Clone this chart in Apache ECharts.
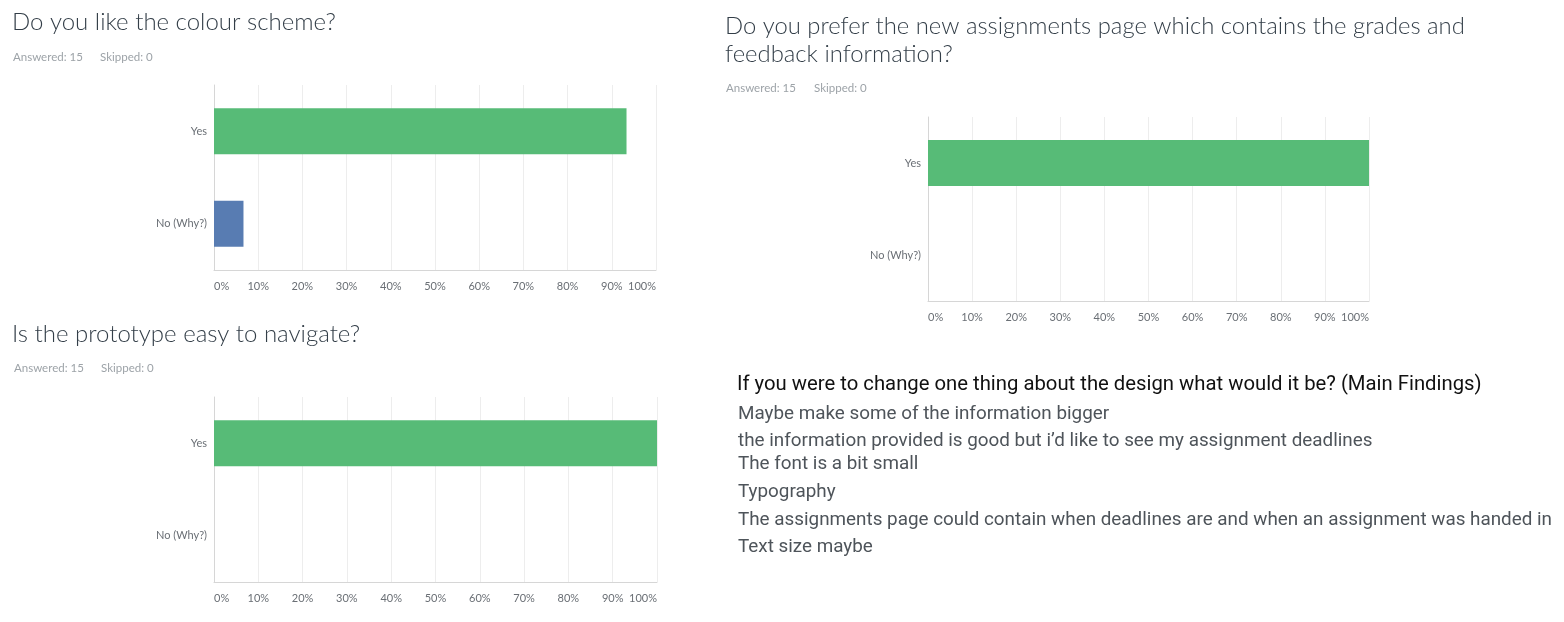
<!DOCTYPE html>
<html>
<head>
<meta charset="utf-8">
<script src="https://cdn.jsdelivr.net/npm/echarts@6/dist/echarts.min.js"></script>
<style>
html,body{margin:0;padding:0;background:#fff;}
#chart{width:1564px;height:622px;}
</style>
</head>
<body>
<div id="chart"></div>
<script>
// ---- data ----
const categories = ['Yes', 'No (Why?)'];
const colourSchemeValues = [93.33, 6.67];
const navigateValues = [100, 0];
const assignmentsValues = [100, 0];
const barColors = ['#57BB77', '#587CB2'];
const question1 = 'Do you like the colour scheme?';
const question2 = 'Is the prototype easy to navigate?';
const question3 = 'Do you prefer the new assignments page which contains the grades and\nfeedback information?';
const answeredText = 'Answered: 15';
const skippedText = 'Skipped: 0';
const findingsTitle = 'If you were to change one thing about the design what would it be? (Main Findings)';
const findings = [
  'Maybe make some of the information bigger',
  'the information provided is good but i\u2019d like to see my assignment deadlines',
  'The font is a bit small',
  'Typography',
  'The assignments page could contain when deadlines are and when an assignment was handed in',
  'Text size maybe'
];

// ---- layout ----
const grids = [
  {left: 214, top: 85, width: 442, height: 185},
  {left: 214, top: 397, width: 443, height: 185},
  {left: 928, top: 117, width: 441, height: 184}
];
const valueSets = [colourSchemeValues, navigateValues, assignmentsValues];

const titleFont = 'Lato, "Open Sans", sans-serif';
const titleStyle = {fontFamily: titleFont, fontSize: 24, fontWeight: 300, color: '#333E48', lineHeight: 28};
const titleStyle3 = Object.assign({}, titleStyle, {fontSize: 23.85});
const subStyle = {fontFamily: titleFont, fontSize: 11.5, fontWeight: 400, color: '#9DA3A8'};

function t(text, left, top, style) {
  return {text: text, left: left, top: top, padding: 0, textStyle: style};
}

const titles = [
  t(question1, 12, 8, titleStyle),
  t(answeredText, 13, 51, subStyle),
  t(skippedText, 100, 51, subStyle),
  t(question2, 12, 320, titleStyle),
  t(answeredText, 14, 362, subStyle),
  t(skippedText, 101, 362, subStyle),
  t(question3, 725, 12, titleStyle3),
  t(answeredText, 726, 82, subStyle),
  t(skippedText, 814, 82, subStyle),
  t(findingsTitle, 737, 375, {fontFamily: 'Roboto', fontSize: 20.3, fontWeight: 400, color: '#111'})
];
const findingsTops = [405, 432, 455, 483, 511, 538];
findings.forEach((s, i) => {
  titles.push(t(s, 738, findingsTops[i], {fontFamily: 'Roboto', fontSize: 18.85, fontWeight: 400, color: '#4E545A'}));
});

const xAxes = grids.map((g, i) => ({
  type: 'value', gridIndex: i, min: 0, max: 100, interval: 10,
  axisLine: {show: true, lineStyle: {color: '#D6D6D6', width: 1}},
  axisTick: {show: false},
  splitLine: {show: true, lineStyle: {color: '#EDEDED', width: 1}},
  axisLabel: {formatter: '{value}%', color: '#6A6F75', fontSize: 11, fontFamily: 'Lato, sans-serif', margin: 11,
    alignMinLabel: 'left', alignMaxLabel: 'right'}
}));
const yAxes = grids.map((g, i) => ({
  type: 'category', gridIndex: i, data: categories, inverse: true,
  axisLine: {show: true, lineStyle: {color: '#D6D6D6', width: 1}},
  axisTick: {show: false},
  axisLabel: {color: '#6A6F75', fontSize: 11, fontFamily: 'Lato, sans-serif', margin: 7}
}));
const series = valueSets.map((vals, i) => ({
  type: 'bar', xAxisIndex: i, yAxisIndex: i, barWidth: 46,
  data: vals.map((v, j) => ({value: v, itemStyle: {color: barColors[j]}})),
  silent: true
}));

const chart = echarts.init(document.getElementById('chart'));
chart.setOption({
  animation: false,
  backgroundColor: '#fff',
  title: titles,
  grid: grids,
  xAxis: xAxes,
  yAxis: yAxes,
  series: series
});
</script>
</body>
</html>
